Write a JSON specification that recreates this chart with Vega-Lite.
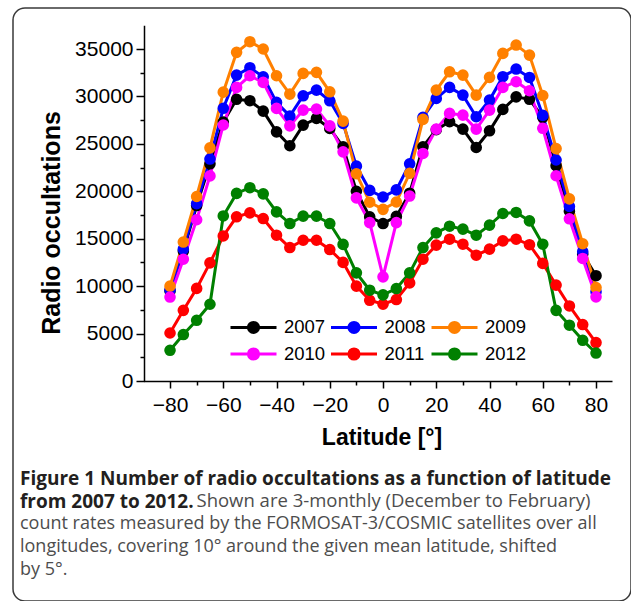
{
  "$schema": "https://vega.github.io/schema/vega-lite/v6.json",
  "autosize": {"type": "none"},
  "padding": {"left": 13, "top": 8, "right": 0, "bottom": 0},
  "width": 618,
  "height": 593,
  "background": "white",
  "title": {
    "text": ["Figure 1 Number of radio occultations as a function of latitude", "from 2007 to 2012."],
    "subtitle": ["count rates measured by the FORMOSAT-3/COSMIC satellites over all", "longitudes, covering 10° around the given mean latitude, shifted", "by 5°."],
    "orient": "bottom",
    "anchor": "start",
    "frame": "group",
    "offset": -131,
    "dx": 7,
    "baseline": "top",
    "font": "Open Sans",
    "fontSize": 19,
    "fontWeight": "bold",
    "color": "#231f20",
    "lineHeight": 23,
    "subtitleFont": "Open Sans",
    "subtitleFontSize": 18,
    "subtitleFontWeight": "normal",
    "subtitleColor": "#4d4d4d",
    "subtitleLineHeight": 23,
    "subtitlePadding": 3
  },
  "data": {"values": [
    {"lat":-80,"year":"2007","n":9500},{"lat":-75,"year":"2007","n":13700},{"lat":-70,"year":"2007","n":18500},{"lat":-65,"year":"2007","n":22900},{"lat":-60,"year":"2007","n":27300},{"lat":-55,"year":"2007","n":29700},{"lat":-50,"year":"2007","n":29550},{"lat":-45,"year":"2007","n":28450},{"lat":-40,"year":"2007","n":26270},{"lat":-35,"year":"2007","n":24800},{"lat":-30,"year":"2007","n":26980},{"lat":-25,"year":"2007","n":27680},{"lat":-20,"year":"2007","n":26630},{"lat":-15,"year":"2007","n":24690},{"lat":-10,"year":"2007","n":20000},{"lat":-5,"year":"2007","n":17300},{"lat":0,"year":"2007","n":16600},{"lat":5,"year":"2007","n":17350},{"lat":10,"year":"2007","n":19800},{"lat":15,"year":"2007","n":24690},{"lat":20,"year":"2007","n":26500},{"lat":25,"year":"2007","n":27330},{"lat":30,"year":"2007","n":26560},{"lat":35,"year":"2007","n":24620},{"lat":40,"year":"2007","n":26380},{"lat":45,"year":"2007","n":28630},{"lat":50,"year":"2007","n":29960},{"lat":55,"year":"2007","n":29700},{"lat":60,"year":"2007","n":27800},{"lat":65,"year":"2007","n":22700},{"lat":70,"year":"2007","n":17900},{"lat":75,"year":"2007","n":13400},{"lat":80,"year":"2007","n":11100},
    {"lat":-80,"year":"2008","n":9600},{"lat":-75,"year":"2008","n":13900},{"lat":-70,"year":"2008","n":18700},{"lat":-65,"year":"2008","n":23400},{"lat":-60,"year":"2008","n":28750},{"lat":-55,"year":"2008","n":32250},{"lat":-50,"year":"2008","n":33030},{"lat":-45,"year":"2008","n":32075},{"lat":-40,"year":"2008","n":29370},{"lat":-35,"year":"2008","n":27930},{"lat":-30,"year":"2008","n":30070},{"lat":-25,"year":"2008","n":30670},{"lat":-20,"year":"2008","n":29540},{"lat":-15,"year":"2008","n":27160},{"lat":-10,"year":"2008","n":22650},{"lat":-5,"year":"2008","n":20100},{"lat":0,"year":"2008","n":19400},{"lat":5,"year":"2008","n":20150},{"lat":10,"year":"2008","n":22900},{"lat":15,"year":"2008","n":27790},{"lat":20,"year":"2008","n":29790},{"lat":25,"year":"2008","n":30950},{"lat":30,"year":"2008","n":30140},{"lat":35,"year":"2008","n":27860},{"lat":40,"year":"2008","n":29620},{"lat":45,"year":"2008","n":32080},{"lat":50,"year":"2008","n":32890},{"lat":55,"year":"2008","n":32000},{"lat":60,"year":"2008","n":28000},{"lat":65,"year":"2008","n":23300},{"lat":70,"year":"2008","n":18400},{"lat":75,"year":"2008","n":13650},{"lat":80,"year":"2008","n":9400},
    {"lat":-80,"year":"2009","n":10000},{"lat":-75,"year":"2009","n":14650},{"lat":-70,"year":"2009","n":19450},{"lat":-65,"year":"2009","n":24580},{"lat":-60,"year":"2009","n":30450},{"lat":-55,"year":"2009","n":34650},{"lat":-50,"year":"2009","n":35770},{"lat":-45,"year":"2009","n":35000},{"lat":-40,"year":"2009","n":32180},{"lat":-35,"year":"2009","n":30250},{"lat":-30,"year":"2009","n":32430},{"lat":-25,"year":"2009","n":32540},{"lat":-20,"year":"2009","n":30490},{"lat":-15,"year":"2009","n":27400},{"lat":-10,"year":"2009","n":21850},{"lat":-5,"year":"2009","n":18850},{"lat":0,"year":"2009","n":18100},{"lat":5,"year":"2009","n":18870},{"lat":10,"year":"2009","n":21900},{"lat":15,"year":"2009","n":27580},{"lat":20,"year":"2009","n":30670},{"lat":25,"year":"2009","n":32600},{"lat":30,"year":"2009","n":32250},{"lat":35,"year":"2009","n":30140},{"lat":40,"year":"2009","n":32010},{"lat":45,"year":"2009","n":34540},{"lat":50,"year":"2009","n":35420},{"lat":55,"year":"2009","n":34360},{"lat":60,"year":"2009","n":30100},{"lat":65,"year":"2009","n":24500},{"lat":70,"year":"2009","n":19200},{"lat":75,"year":"2009","n":14470},{"lat":80,"year":"2009","n":9850},
    {"lat":-80,"year":"2010","n":8850},{"lat":-75,"year":"2010","n":12840},{"lat":-70,"year":"2010","n":17000},{"lat":-65,"year":"2010","n":21620},{"lat":-60,"year":"2010","n":26990},{"lat":-55,"year":"2010","n":30950},{"lat":-50,"year":"2010","n":32180},{"lat":-45,"year":"2010","n":31480},{"lat":-40,"year":"2010","n":28740},{"lat":-35,"year":"2010","n":26900},{"lat":-30,"year":"2010","n":28560},{"lat":-25,"year":"2010","n":28670},{"lat":-20,"year":"2010","n":26900},{"lat":-15,"year":"2010","n":24160},{"lat":-10,"year":"2010","n":19300},{"lat":-5,"year":"2010","n":16700},{"lat":0,"year":"2010","n":10980},{"lat":5,"year":"2010","n":16700},{"lat":10,"year":"2010","n":19500},{"lat":15,"year":"2010","n":23990},{"lat":20,"year":"2010","n":26560},{"lat":25,"year":"2010","n":28210},{"lat":30,"year":"2010","n":28030},{"lat":35,"year":"2010","n":26560},{"lat":40,"year":"2010","n":28560},{"lat":45,"year":"2010","n":30950},{"lat":50,"year":"2010","n":31550},{"lat":55,"year":"2010","n":30600},{"lat":60,"year":"2010","n":26640},{"lat":65,"year":"2010","n":21640},{"lat":70,"year":"2010","n":17100},{"lat":75,"year":"2010","n":12920},{"lat":80,"year":"2010","n":8870},
    {"lat":-80,"year":"2011","n":5060},{"lat":-75,"year":"2011","n":7450},{"lat":-70,"year":"2011","n":9760},{"lat":-65,"year":"2011","n":12450},{"lat":-60,"year":"2011","n":15290},{"lat":-55,"year":"2011","n":17310},{"lat":-50,"year":"2011","n":17730},{"lat":-45,"year":"2011","n":17130},{"lat":-40,"year":"2011","n":15370},{"lat":-35,"year":"2011","n":14070},{"lat":-30,"year":"2011","n":14840},{"lat":-25,"year":"2011","n":14840},{"lat":-20,"year":"2011","n":13860},{"lat":-15,"year":"2011","n":12500},{"lat":-10,"year":"2011","n":10000},{"lat":-5,"year":"2011","n":8510},{"lat":0,"year":"2011","n":8090},{"lat":5,"year":"2011","n":8590},{"lat":10,"year":"2011","n":10340},{"lat":15,"year":"2011","n":12840},{"lat":20,"year":"2011","n":14320},{"lat":25,"year":"2011","n":14950},{"lat":30,"year":"2011","n":14420},{"lat":35,"year":"2011","n":13260},{"lat":40,"year":"2011","n":13900},{"lat":45,"year":"2011","n":14770},{"lat":50,"year":"2011","n":14950},{"lat":55,"year":"2011","n":14370},{"lat":60,"year":"2011","n":12400},{"lat":65,"year":"2011","n":10110},{"lat":70,"year":"2011","n":7910},{"lat":75,"year":"2011","n":5950},{"lat":80,"year":"2011","n":4050},
    {"lat":-80,"year":"2012","n":3240},{"lat":-75,"year":"2012","n":4900},{"lat":-70,"year":"2012","n":6400},{"lat":-65,"year":"2012","n":8090},{"lat":-60,"year":"2012","n":17400},{"lat":-55,"year":"2012","n":19780},{"lat":-50,"year":"2012","n":20380},{"lat":-45,"year":"2012","n":19730},{"lat":-40,"year":"2012","n":17830},{"lat":-35,"year":"2012","n":16600},{"lat":-30,"year":"2012","n":17380},{"lat":-25,"year":"2012","n":17380},{"lat":-20,"year":"2012","n":16600},{"lat":-15,"year":"2012","n":14400},{"lat":-10,"year":"2012","n":11400},{"lat":-5,"year":"2012","n":9570},{"lat":0,"year":"2012","n":9080},{"lat":5,"year":"2012","n":9750},{"lat":10,"year":"2012","n":11400},{"lat":15,"year":"2012","n":14070},{"lat":20,"year":"2012","n":15620},{"lat":25,"year":"2012","n":16320},{"lat":30,"year":"2012","n":16010},{"lat":35,"year":"2012","n":15370},{"lat":40,"year":"2012","n":16430},{"lat":45,"year":"2012","n":17660},{"lat":50,"year":"2012","n":17770},{"lat":55,"year":"2012","n":16880},{"lat":60,"year":"2012","n":14420},{"lat":65,"year":"2012","n":7450},{"lat":70,"year":"2012","n":5880},{"lat":75,"year":"2012","n":4290},{"lat":80,"year":"2012","n":2950}
  ]},
  "layer": [
    {
      "mark": {"type": "point", "opacity": 0},
      "encoding": {
        "x": {"field": "lat", "type": "quantitative",
              "scale": {"domain": [-90, 86], "range": [130.4, 599], "nice": false, "zero": false},
              "axis": {"orient": "bottom", "offset": -220, "values": [-70, -50, -30, -10, 10, 30, 50, 70], "labels": false, "domain": false, "grid": false, "tickSize": 4, "tickWidth": 1.5, "tickColor": "black",
                       "title": "Shown are 3-monthly (December to February)", "titleFont": "Open Sans", "titleFontSize": 18.5, "titleFontWeight": "normal", "titleColor": "#4d4d4d",
                       "titleX": 183, "titleY": 110, "titleAlign": "left", "titleBaseline": "top", "titleAngle": 0}},
        "y": {"field": "n", "type": "quantitative",
              "scale": {"domain": [0, 37500], "range": [373, 17.3], "nice": false, "zero": false},
              "axis": {"orient": "left", "offset": -131, "values": [2500, 7500, 12500, 17500, 22500, 27500, 32500], "labels": false, "domain": false, "grid": false, "tickSize": 4, "tickWidth": 1.5, "tickColor": "black", "title": null}}
      }
    },
    {
      "mark": {"type": "line", "strokeWidth": 3, "point": {"filled": true, "size": 135, "opacity": 1}},
      "encoding": {
        "x": {"field": "lat", "type": "quantitative",
              "scale": {"domain": [-90, 86], "range": [130.4, 599], "nice": false, "zero": false},
              "axis": {"orient": "bottom", "offset": -220, "values": [-80, -60, -40, -20, 0, 20, 40, 60, 80], "grid": false,
                       "domainColor": "black", "domainWidth": 1.5, "tickColor": "black", "tickWidth": 1.5, "tickSize": 7,
                       "labelFont": "Liberation Sans", "labelFontSize": 21, "labelColor": "black", "labelPadding": 6,
                       "title": "Latitude [°]", "titleFont": "Liberation Sans", "titleFontSize": 23, "titleFontWeight": "bold", "titleColor": "black",
                       "titleX": 368.5, "titleY": 63.5, "titleBaseline": "alphabetic", "titleAlign": "center"}},
        "y": {"field": "n", "type": "quantitative",
              "scale": {"domain": [0, 37500], "range": [373, 17.3], "nice": false, "zero": false},
              "axis": {"orient": "left", "offset": -131, "values": [0, 5000, 10000, 15000, 20000, 25000, 30000, 35000], "grid": false, "format": "d",
                       "domainColor": "black", "domainWidth": 1.5, "tickColor": "black", "tickWidth": 1.5, "tickSize": 8,
                       "labelFont": "Liberation Sans", "labelFontSize": 21, "labelColor": "black", "labelPadding": 3,
                       "title": "Radio occultations", "titleFont": "Liberation Sans", "titleFontSize": 25, "titleFontWeight": "bold", "titleColor": "black",
                       "titleX": -85, "titleY": 214.5, "titleAngle": -90, "titleBaseline": "alphabetic", "titleAlign": "center"}},
        "color": {"field": "year", "type": "nominal",
                  "scale": {"domain": ["2007", "2008", "2009", "2010", "2011", "2012"], "range": ["#000000", "#0000ff", "#ff8000", "#ff00ff", "#ff0000", "#008000"]},
                  "legend": {"orient": "none", "legendX": 227.5, "legendY": 306, "direction": "horizontal", "columns": 3, "title": null,
                             "symbolType": "M-2,0H2M-0.44,0A0.44,0.44,0,1,0,0.44,0A0.44,0.44,0,1,0,-0.44,0Z",
                             "symbolSize": 529, "symbolStrokeWidth": 3, "labelOffset": 17.5, "columnPadding": -0.5, "rowPadding": 2, "padding": 0,
                             "labelFont": "Liberation Sans", "labelFontSize": 18.5, "labelColor": "black",
                             "encode": {"symbols": {"update": {"fill": {"scale": "color", "field": "value"}, "stroke": {"scale": "color", "field": "value"}, "opacity": {"value": 1}}}}}}
      }
    }
  ],
  "resolve": {"axis": {"x": "independent", "y": "independent"}},
  "config": {
    "view": {"stroke": "#3a3a3a", "strokeWidth": 1.5, "cornerRadius": 12},
    "axis": {"labelFlush": false, "labelOverlap": false}
  }
}
